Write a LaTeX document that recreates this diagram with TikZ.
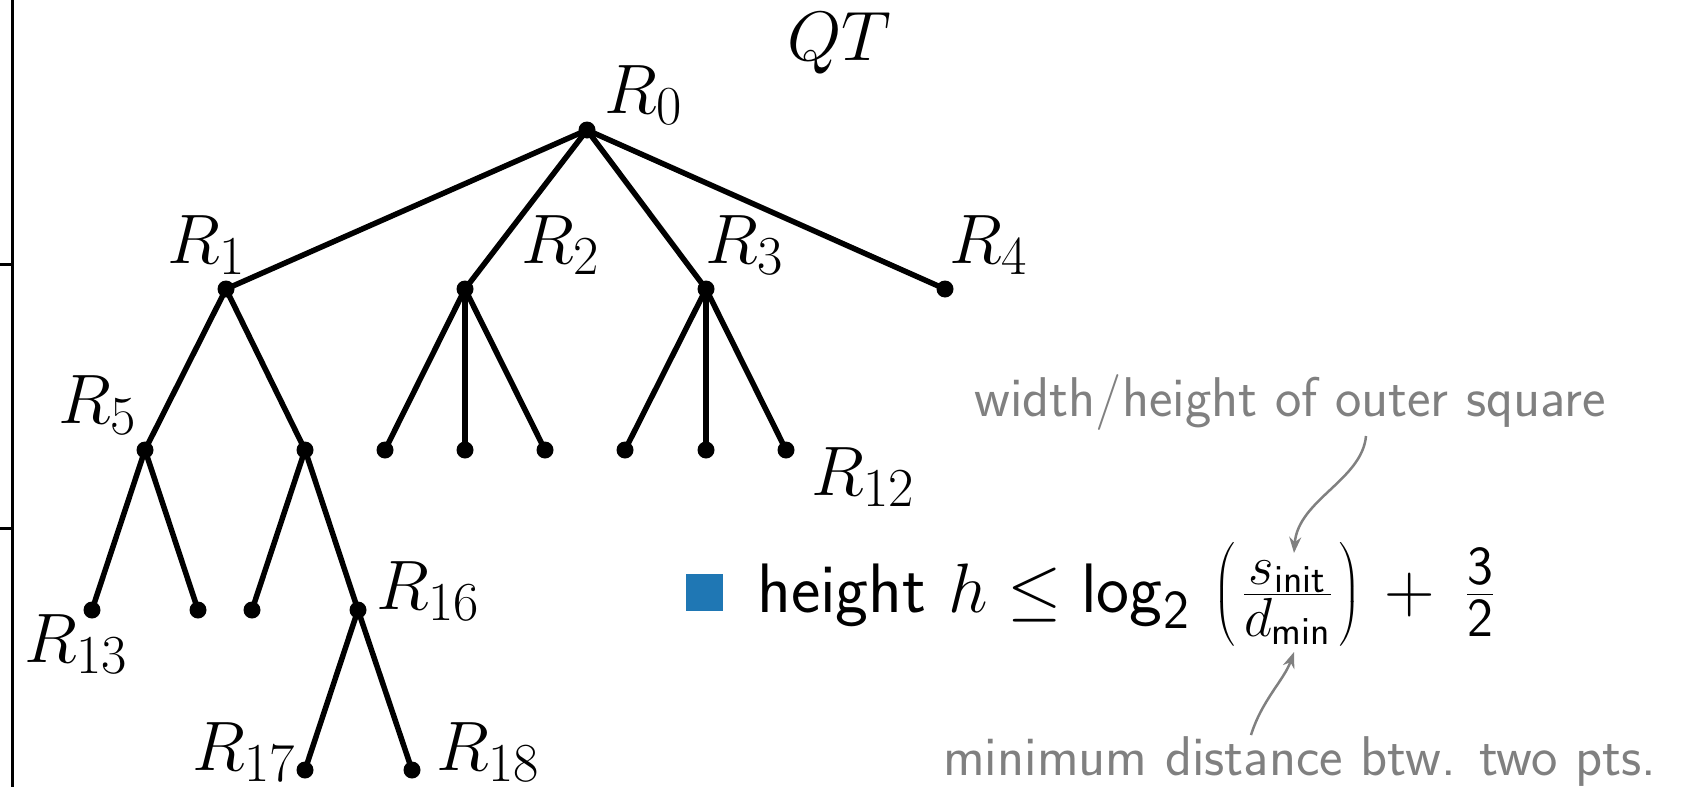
\RequirePackage{fix-cm}
\documentclass[tikz,border=0pt]{standalone}
\usepackage{amsmath}
\usetikzlibrary{arrows.meta}
\definecolor{qtblue}{RGB}{31,119,180}
\DeclareMathSizes{70}{70}{55}{40}
\begin{document}
\begin{tikzpicture}[x=1pt,y=-1pt,
  dot/.style={circle,fill=black,inner sep=0pt,minimum size=17pt},
  edge/.style={line width=5.5pt},
  lab/.style={anchor=base west,inner sep=0pt,font=\fontsize{70}{84}\selectfont},
  note/.style={anchor=base west,inner sep=0pt,text=gray,font=\sffamily\fontsize{56}{67}\selectfont},
  pointer/.style={draw=gray,line width=2.5pt,-{Stealth[length=16pt,width=12pt]}}]
\useasboundingbox (0,0) rectangle (1684,787);
% left axis
\draw[line width=3pt] (12,0) -- (12,787);
\draw[line width=3pt] (0,264) -- (12,264);
\draw[line width=3pt] (0,528) -- (12,528);
% nodes
\node[dot] (n0) at (587,130) {};
\node[dot] (n1) at (226,289) {};
\node[dot] (n2) at (465,289) {};
\node[dot] (n3) at (706,289) {};
\node[dot] (n4) at (945,289) {};
\node[dot] (n5) at (145,450) {};
\node[dot] (n6) at (305,450) {};
\node[dot] (n7) at (385,450) {};
\node[dot] (n8) at (465,450) {};
\node[dot] (n9) at (545,450) {};
\node[dot] (n10) at (625,450) {};
\node[dot] (n11) at (706,450) {};
\node[dot] (n12) at (786,450) {};
\node[dot] (n13) at (92,610) {};
\node[dot] (n14) at (198,610) {};
\node[dot] (n15) at (252,610) {};
\node[dot] (n16) at (358,610) {};
\node[dot] (n17) at (305,770) {};
\node[dot] (n18) at (412,770) {};
% edges
\foreach \a/\b in {n0/n1,n0/n2,n0/n3,n0/n4,n1/n5,n1/n6,n2/n7,n2/n8,n2/n9,n3/n10,n3/n11,n3/n12,n5/n13,n5/n14,n6/n15,n6/n16,n16/n17,n16/n18}
  \draw[edge] (\a.center) -- (\b.center);
% labels
\node[lab] (qt) at (787,60) {$QT$};
\node[lab] (l0) at (604,113) {$R_{0}$};
\node[lab] (l1) at (167,263) {$R_{1}$};
\node[lab] (l2) at (521,263) {$R_{2}$};
\node[lab] (l3) at (705,263) {$R_{3}$};
\node[lab] (l4) at (949,263) {$R_{4}$};
\node[lab] (l5) at (58,423) {$R_{5}$};
\node[lab] (l12) at (811,495) {$R_{12}$};
\node[lab] (l13) at (24,662) {$R_{13}$};
\node[lab] (l16) at (376,609) {$R_{16}$};
\node[lab] (l17) at (192,770) {$R_{17}$};
\node[lab] (l18) at (436,770) {$R_{18}$};
% bullet and formula
\node[fill=qtblue,minimum size=37pt,inner sep=0pt] (sq) at (704,592) {};
\node[anchor=base west,inner sep=0pt,font=\sffamily\fontsize{70}{84}\selectfont] (f) at (757,612)
  {height $h \leq \mathop{\mathsf{log}}\nolimits_{\mathsf{2}}\mkern3mu\left(\mkern2mu\frac{s_{\text{init}}}{d_{\text{min}}}\mkern2mu\right) \mkern2mu+\mkern4mu \frac{\mathsf{3}}{\mathsf{2}}$};
% notes
\node[note] (t1) at (974,416) {width/height of outer square};
\node[note] (t2) at (943,775) {minimum distance btw. two pts.};
\coordinate (a1s) at (1366,436);
\coordinate (a1e) at (1294,553);
\coordinate (a2s) at (1251,735);
\coordinate (a2e) at (1294,652);
\draw[pointer] (a1s) .. controls (1362,480) and (1298,500) .. (a1e);
\draw[pointer] (a2s) .. controls (1262,700) and (1284,680) .. (a2e);
\end{tikzpicture}
\end{document}
